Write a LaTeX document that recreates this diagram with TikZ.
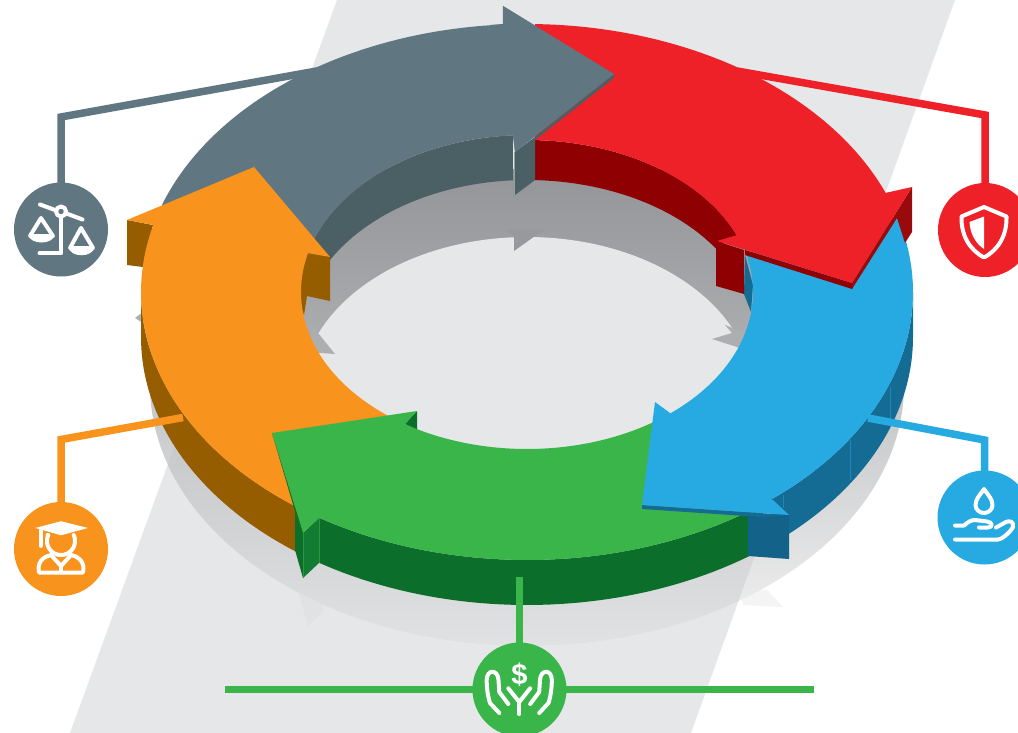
\documentclass[tikz,border=0pt]{standalone}
\usepackage{fontspec}
\setmainfont{Liberation Sans}
\definecolor{band}{HTML}{E6E7E8}
\definecolor{slatef}{HTML}{607781}
\definecolor{slatew}{HTML}{4B6064}
\definecolor{redf}{HTML}{EE2028}
\definecolor{redw}{HTML}{8E0002}
\definecolor{redb}{HTML}{990A0D}
\definecolor{bluef}{HTML}{27AAE1}
\definecolor{bluew}{HTML}{146C94}
\definecolor{blueb}{HTML}{12628A}
\definecolor{greenf}{HTML}{3AB54A}
\definecolor{greenw}{HTML}{0B6E2A}
\definecolor{greenb}{HTML}{117C32}
\definecolor{orangef}{HTML}{F8931D}
\definecolor{orangew}{HTML}{955C00}
\definecolor{shA}{HTML}{939598}
\definecolor{shB}{HTML}{ADAEB0}
\definecolor{shC}{HTML}{C6C7C9}
\definecolor{shD}{HTML}{E1E2E3}
\definecolor{shE}{HTML}{CBCCCE}
\definecolor{shF}{HTML}{F4F4F4}
\tikzset{
  ea/.style args={#1/#2/#3/#4/#5/#6}{insert path={-- plot[domain=#5:#6,samples=48] ({#1+#3*cos(\x)},{#2+#4*sin(\x)})}},
  oa/.style 2 args={ea=527/292/386/268/#1/#2},
  ol/.style 2 args={ea=527/337/386/268/#1/#2},
  ia/.style 2 args={ea=527/292/226/157/#1/#2},
  il/.style 2 args={ea=527/337/226/157/#1/#2},
  ra/.style 2 args={ea=527/292/226/152/#1/#2},
  rl/.style 2 args={ea=527/332/226/152/#1/#2},
  badge/.style={circle,inner sep=0pt,minimum size=94pt,fill=#1},
  leader/.style={draw=#1,line width=7.5pt,line join=miter,shorten >=-1pt},
  icon/.style={draw=white,line width=4pt,line cap=round,line join=round,fill=none},
  seam/.style={line width=0.6pt},
}
\begin{document}
\begin{tikzpicture}[x=1pt,y=-1pt]
\path[use as bounding box,clip] (0,0) rectangle (1018,733);
\fill[white] (0,0) rectangle (1018,733);
% diagonal band
\fill[band] (337,0) -- (955,0) -- (691,733) -- (70,733) -- cycle;
% ground shadow
\fill[shF] (767,590) -- (783,607) -- (743,605) -- (740,590) -- cycle;
\fill[shD] (298,590) -- (308,626) -- (323,611) -- (323,595) -- cycle;
\fill[shB] (135,318) -- (143,312) -- (143,323) -- cycle;
\begin{scope}
  \clip (527,385) ellipse [x radius=377pt,y radius=261pt];
  \shade[top color=shE,bottom color=shF] (100,430) rectangle (960,650);
  \shade[top color=shB,bottom color=shE] (100,170) rectangle (960,430.5);
  \clip (337,0) -- (955,0) -- (691,733) -- (70,733) -- cycle;
  \shade[top color=shA,bottom color=shB] (100,170) rectangle (960,350.5);
  \shade[top color=shB,bottom color=shC] (100,350) rectangle (960,430.5);
  \shade[top color=shC,bottom color=shD] (100,430) rectangle (960,650);
\end{scope}
\fill[band] (527,394) ellipse [x radius=226pt,y radius=157pt];
\fill[shA!85!shB] (505,230) -- (514,236) -- (514,251) -- (535,236) -- (545,230) -- cycle;
\fill[shB] (725,325) -- (732,333) -- (712,339) -- (740,348) -- (750,335) -- cycle;
\fill[shB] (312,325) -- (318,333) -- (335,354) -- (308,352) -- cycle;

% slate arrow, body
\fill[slatew] (309,251) [ia={195}{266.4}] -- (513,180) [il={266.4}{195}] -- cycle;
\fill[slatef] (162,205) [oa={199}{266.4}] -- (503,6) -- (614,74) -- (515,152) -- (513,135) [ia={266.4}{197}] -- cycle;

% orange arrow
\fill[orangew] (141,292) [oa={180}{125.3}] [ol={125.3}{180}] -- cycle;
\fill[orangew] (127,220) -- (153,225) -- (143,267) -- (127,265) -- cycle;
\fill[orangew] (307,253) -- (307,296) -- (304,315) -- (295,290) -- cycle;
\fill[orangew] (307,253) -- (330,257) -- (330,301) -- (307,296) -- cycle;
\fill[orangef] (127,220) -- (254,167) -- (330,257) -- (307,253) [ia={194.4}{127.3}] -- (300,515) [oa={125.3}{194.5}] -- cycle;

% green arrow
\fill[greenw] (760,500) [oa={52}{122.6}] [ol={122.6}{52}] -- cycle;
\fill[greenb] (303,533) -- (303,578) -- (319,563) -- (319,518) -- cycle;
\fill[greenw] (295,512) -- (295,550) -- (303,578) -- (303,533) -- cycle;
\draw[seam,draw=greenf!60!greenw] (319,518) -- (319,563);
\draw[seam,draw=greenf!60!greenw] (303,533) -- (303,578);
\fill[greenw] (405,424) -- (417,411) -- (417,430) -- cycle;
\fill[greenf] (272,433) -- (417,411) -- (405,424) [ia={122.7}{55.5}] -- (752,514) [oa={54}{122.6}] -- (303,533) -- cycle;
\fill[greenw] (272,433) -- (303,533) -- (295.2,512) -- cycle;

% blue arrow
\fill[bluew] (913,292) [oa={0}{51}] -- (789,534) [ol={47.3}{0}] -- cycle;
\fill[bluew] (745,255) -- (753,285) -- (751,312) -- (744,294) -- cycle;
\draw[seam,draw=bluef!45!bluew] (850,440) -- (850,480);
\draw[seam,draw=bluef!45!bluew] (890,387) -- (890,427);
\draw[seam,draw=bluef!45!bluew] (783,495) -- (783,508);
\fill[blueb] (748,515) -- (789,515) -- (789,559) -- (748,556) -- cycle;
\fill[bluew] (642,505) -- (642,509) -- (760,517) -- (789,515) -- cycle;
\fill[bluef] (745,255) -- (897,218) [oa={343.6}{411}] -- (773,500) -- (789,515) -- (642,505) -- (655,402) -- (670,413) [ia={50.7}{-13.6}] -- cycle;

% red arrow
\fill[redw] (535,140) [ra={272}{338.3}] -- (716,248) [rl={326.6}{272}] -- cycle;
\fill[redw] (716,241) -- (716,286) -- (744,294) -- (744,250) -- cycle;
\fill[redw] (745,250) -- (852,283) -- (852,289) -- (745,255) -- cycle;
\fill[redb] (852,283) -- (912,187) -- (912,232) -- (905,243) -- (897,218) -- (852,289) -- cycle;
\fill[redf] (535,24) [oa={271.2}{338.3}] -- (912,187) -- (852,283) -- (717,241) -- (737,235) [ra={338.3}{272}] -- cycle;

% slate arrow, head on top of the red tail
\fill[slatew] (515,152) -- (515,195) -- (535,180) -- (535,137) -- cycle;
\fill[slatew] (614,74) -- (614,78) -- (535,140) -- (535,137) -- cycle;
\draw[seam,draw=slatef!70!white] (514.5,152) -- (514.5,195);
\fill[slatef] (490,25) -- (503,24) -- (503,6) -- (614,74) -- (515,152) -- (513,135) -- (490,137) -- cycle;

% badges
\node[badge=slatef] (nscale) at (61,229.5) {};
\node[badge=redf] (nshield) at (985,230) {};
\node[badge=bluef] (ndrop) at (984.5,517.5) {};
\node[badge=orangef] (ngrad) at (61,549) {};
\node[badge=greenf] (nhands) at (519.5,689.5) {};

% leaders
\coordinate (sc1) at (61,117);   \coordinate (sc2) at (340,66.8);
\coordinate (rc1) at (985,115); \coordinate (rc2) at (737,71);
\coordinate (bc1) at (984.5,440); \coordinate (bc2) at (868,418);
\coordinate (oc1) at (61,439.5); \coordinate (oc2) at (183,417.5);
\coordinate (gc1) at (519.5,577);
\coordinate (hl) at (225,689.5); \coordinate (hr) at (814,689.5);
\draw[leader=slatef] (sc2) -- (sc1) -- (nscale.north);
\draw[leader=redf] (rc2) -- (rc1) -- (nshield.north);
\draw[leader=bluef] (bc2) -- (bc1) -- (ndrop.north);
\draw[leader=orangef] (oc2) -- (oc1) -- (ngrad.north);
\draw[leader=greenf] (gc1) -- (nhands.north);
\draw[leader=greenf] (hl) -- (nhands.west);
\draw[leader=greenf] (hr) -- (nhands.east);

% scales icon
\draw[icon] (40,204.5) -- (55,210);
\draw[icon] (66.5,213.5) -- (82.5,219.5);
\draw[icon] (61,211.5) circle [radius=5pt];
\draw[icon] (61,217) -- (61,253.3) -- (39.5,253.3);
\draw[icon] (41,218) -- (30,236) -- (53,236) -- cycle;
\fill[white] (28.5,235) .. controls (30,245) and (53,245) .. (54.5,235) -- cycle;
\draw[icon] (81,228) -- (70,248) -- (93,248) -- cycle;
\fill[white] (68.5,247) .. controls (70,258) and (93,258) .. (94.5,247) -- cycle;

% shield icon
\draw[icon] (984,207) -- (1006.5,216.5) .. controls (1007,236) and (998,250) .. (984,257.5) .. controls (970,250) and (961,236) .. (961.5,216.5) -- cycle;
\fill[white] (984,216.5) -- (969.5,222) .. controls (970,233) and (975,243) .. (984,249) -- cycle;

% drop and hand icon
\draw[icon] (984,489) .. controls (980,495) and (975.5,499) .. (975.5,505) .. controls (975.5,509.5) and (979.5,513) .. (984,513) .. controls (988.5,513) and (992.5,509.5) .. (992.5,505) .. controls (992.5,499) and (988,495) .. (984,489) -- cycle;
\draw[icon] (955,539.5) -- (998,539.5) .. controls (1003,539) and (1011,531) .. (1013,527) .. controls (1014,522) and (1010,520) .. (1006,522) -- (996,527.5);
\draw[icon] (955,525.5) -- (964,525.5) .. controls (968,522) and (971,520) .. (975,520) -- (987,521.5) .. controls (993,522) and (993,527.5) .. (988,527.5) -- (979,527.5);

% graduate icon
\draw[icon,fill=white,line join=miter,line width=2.5pt] (40,528) -- (61,522.5) -- (83,528) -- (61,534) -- cycle;
\draw[icon] (47.5,535) [ea=61/541/14/14/205/-25];
\draw[icon] (40.7,530) -- (40.7,546);
\draw[icon] (39,572.5) -- (83,572.5) .. controls (85,563) and (80,557) .. (71,555) -- (61,566) -- (51,555) .. controls (42,557) and (37,563) .. (39,572.5) -- cycle;
\draw[icon] (61,566) -- (61,572.5);

% hands icon
\draw[icon] (499.3,713) -- (490,703) .. controls (487.5,695) and (486.7,688) .. (486.7,680) .. controls (486.7,669) and (498,669) .. (498.5,680) -- (499.3,692) -- (508.3,704);
\draw[icon] (539.2,713) -- (548.5,703) .. controls (551,695) and (551.8,688) .. (551.8,680) .. controls (551.8,669) and (540.5,669) .. (540,680) -- (539.2,692) -- (530.2,704);
\draw[icon] (508.3,688.3) -- (519.25,702) -- (530.2,688.3);
\draw[icon] (519.25,702) -- (519.25,714);
\node[text=white,inner sep=0pt,font=\fontsize{29}{29}\selectfont\bfseries] (dollar) at (519.5,674.5) {\$};
\end{tikzpicture}
\end{document}
